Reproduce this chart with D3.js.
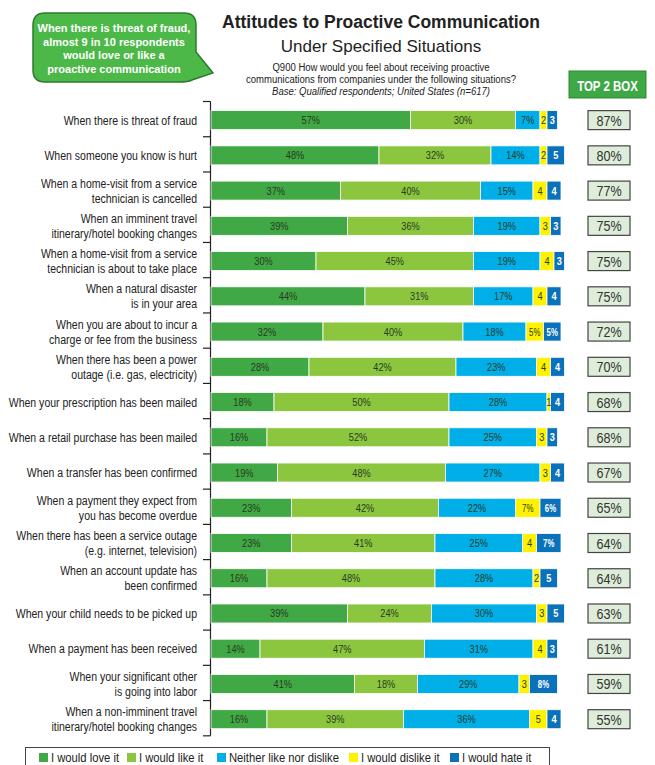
<!DOCTYPE html>
<html lang="en">
<head>
<meta charset="utf-8">
<title>Attitudes to Proactive Communication</title>
<script src="https://d3js.org/d3.v7.min.js"></script>
<style>
    body { margin: 0; background: #fff; }
    svg { display: block; }
    text { font-family: "Liberation Sans", Arial, sans-serif; }
</style>
</head>
<body>
<script>
var width = 655, height = 765;

// situations (rows, top to bottom)
var situations = [
    ["When there is threat of fraud"],
    ["When someone you know is hurt"],
    ["When a home-visit from a service", "technician is cancelled"],
    ["When an imminent travel", "itinerary/hotel booking changes"],
    ["When a home-visit from a service", "technician is about to take place"],
    ["When a natural disaster", "is in your area"],
    ["When you are about to incur a", "charge or fee from the business"],
    ["When there has been a power", "outage (i.e. gas, electricity)"],
    ["When your prescription has been mailed"],
    ["When a retail purchase has been mailed"],
    ["When a transfer has been confirmed"],
    ["When a payment they expect from", "you has become overdue"],
    ["When there has been a service outage", "(e.g. internet, television)"],
    ["When an account update has", "been confirmed"],
    ["When your child needs to be picked up"],
    ["When a payment has been received"],
    ["When your significant other", "is going into labor"],
    ["When a non-imminent travel", "itinerary/hotel booking changes"]
];

var seriesNames = ["I would love it", "I would like it", "Neither like nor dislike", "I would dislike it", "I would hate it"];
var seriesColors = ["#40a845", "#8cc63f", "#00aee8", "#fff200", "#0a72bb"];

var loveIt    = [57, 48, 37, 39, 30, 44, 32, 28, 18, 16, 19, 23, 23, 16, 39, 14, 41, 16];
var likeIt    = [30, 32, 40, 36, 45, 31, 40, 42, 50, 52, 48, 42, 41, 48, 24, 47, 18, 39];
var neither   = [7, 14, 15, 19, 19, 17, 18, 23, 28, 25, 27, 22, 25, 28, 30, 31, 29, 36];
var dislikeIt = [2, 2, 4, 3, 4, 4, 5, 4, 1, 3, 3, 7, 4, 2, 3, 4, 3, 5];
var hateIt    = [3, 5, 4, 3, 3, 4, 5, 4, 4, 3, 4, 6, 7, 5, 5, 3, 8, 4];

// small segments in the source print without "%" except a few
var dislikeLabels = ["2", "2", "4", "3", "4", "4", "5%", "4", "1", "3", "3", "7%", "4", "2", "3", "4", "3", "5"];
var hateLabels    = ["3", "5", "4", "3", "3", "4", "5%", "4", "4", "3", "4", "6%", "7%", "5", "5", "3", "8%", "4"];

var top2Box = [87, 80, 77, 75, 75, 75, 72, 70, 68, 68, 67, 65, 64, 64, 63, 61, 59, 55];

var series = [loveIt, likeIt, neither, dislikeIt, hateIt];

var svg = d3.select("body").append("svg")
    .attr("width", width)
    .attr("height", height);

// condensed look: plain sans squeezed horizontally
function narrow(parent, x, y, sx) {
    return parent.append("text")
        .attr("transform", "translate(" + x + "," + y + ") scale(" + sx + ",1)");
}

// scales
var y = d3.scaleBand()
    .domain(d3.range(situations.length))
    .range([101.5, 101.5 + situations.length * 35.24]);

var x = d3.scaleLinear()
    .domain([0, 100])
    .range([211, 561]);

var barH = 19;

// Titles
svg.append("text")
    .attr("x", 381).attr("y", 28)
    .attr("text-anchor", "middle")
    .style("font-size", "17.5px").style("font-weight", "bold").style("fill", "#222")
    .text("Attitudes to Proactive Communication");

svg.append("text")
    .attr("x", 381).attr("y", 52)
    .attr("text-anchor", "middle")
    .style("font-size", "17px").style("fill", "#222")
    .text("Under Specified Situations");

var subLines = [
    "Q900  How would you feel about receiving proactive",
    "communications from companies under the following situations?",
    "Base:  Qualified respondents; United States (n=617)"
];
subLines.forEach(function(s, i) {
    narrow(svg, 381, 71 + i * 12, 0.83)
        .attr("text-anchor", "middle")
        .style("font-size", "11.5px").style("fill", "#222")
        .style("font-style", i === 2 ? "italic" : "normal")
        .text(s);
});

// Speech bubble
var bx0 = 33, bx1 = 196, by0 = 13, by1 = 82, r = 12;
var bubble = d3.path();
bubble.moveTo(bx0 + r, by0);
bubble.lineTo(bx1 - r, by0);
bubble.quadraticCurveTo(bx1, by0, bx1, by0 + r);
bubble.lineTo(bx1, 52);
bubble.lineTo(213, 73);
bubble.lineTo(bx1 - 4, by1 - 2);
bubble.quadraticCurveTo(bx1 - 8, by1, bx1 - r - 4, by1);
bubble.lineTo(bx0 + r, by1);
bubble.quadraticCurveTo(bx0, by1, bx0, by1 - r);
bubble.lineTo(bx0, by0 + r);
bubble.quadraticCurveTo(bx0, by0, bx0 + r, by0);
bubble.closePath();

svg.append("path")
    .attr("d", bubble.toString())
    .attr("fill", "#4cb848")
    .attr("stroke", "#2e7a30")
    .attr("stroke-width", 1.5);

var calloutLines = ["When there is threat of fraud,", "almost 9 in 10 respondents", "would love or like a", "proactive communication"];
svg.append("g").selectAll("text")
    .data(calloutLines)
    .enter().append("text")
    .attr("x", 114)
    .attr("y", function(d, i) { return 32 + i * 13.5; })
    .attr("text-anchor", "middle")
    .style("font-size", "11px")
    .style("font-weight", "bold")
    .style("fill", "#fff")
    .text(function(d) { return d; });

// TOP 2 BOX header
svg.append("rect")
    .attr("x", 569).attr("y", 71).attr("width", 77).attr("height", 27)
    .attr("fill", "#3fa846").attr("stroke", "#2d8a33");
narrow(svg, 607.5, 90.5, 0.74)
    .attr("text-anchor", "middle")
    .style("font-size", "15.5px").style("font-weight", "bold").style("fill", "#fff")
    .text("TOP 2 BOX");

// axis line with ticks at band edges
var axisG = svg.append("g");
axisG.append("line")
    .attr("x1", 210.5).attr("x2", 210.5)
    .attr("y1", y.range()[0]).attr("y2", y.range()[1])
    .attr("stroke", "#222").attr("stroke-width", 1.2);
axisG.selectAll("line.tick")
    .data(d3.range(situations.length + 1))
    .enter().append("line")
    .attr("class", "tick")
    .attr("x1", 203).attr("x2", 210.5)
    .attr("y1", function(i) { return y.range()[0] + i * y.step(); })
    .attr("y2", function(i) { return y.range()[0] + i * y.step(); })
    .attr("stroke", "#222").attr("stroke-width", 1.2);

// row labels
var labelG = svg.append("g");
situations.forEach(function(lines, i) {
    var cy = y(i) + y.bandwidth() / 2 + 1;
    lines.forEach(function(l, j) {
        narrow(labelG, 197, cy - (lines.length - 1) * 7.5 + j * 15 + 4.5, 0.78)
            .attr("text-anchor", "end")
            .style("font-size", "13.5px").style("fill", "#222")
            .text(l);
    });
});

// stacked bars
var rows = situations.map(function(s, i) {
    var acc = 0;
    return series.map(function(vals, k) {
        var seg = { row: i, k: k, v: vals[i], x0: acc, x1: acc + vals[i] };
        acc += vals[i];
        if (k === 3) seg.label = dislikeLabels[i];
        else if (k === 4) seg.label = hateLabels[i];
        else seg.label = vals[i] + "%";
        return seg;
    });
});
var segs = [].concat.apply([], rows);

var barG = svg.append("g");
barG.selectAll("rect")
    .data(segs)
    .enter().append("rect")
    .attr("x", function(d) { return x(d.x0); })
    .attr("y", function(d) { return y(d.row) + (y.bandwidth() - barH) / 2 + 1; })
    .attr("width", function(d) { return x(d.x1) - x(d.x0); })
    .attr("height", barH)
    .attr("fill", function(d) { return seriesColors[d.k]; })
    .attr("stroke", "#fff")
    .attr("stroke-width", 0.8);

segs.forEach(function(d) {
    var cx = (x(d.x0) + x(d.x1)) / 2;
    var cy = y(d.row) + y.bandwidth() / 2 + 5;
    narrow(barG, cx, cy, d.k >= 3 && d.label.length > 1 ? 0.68 : 0.8)
        .attr("text-anchor", "middle")
        .style("font-size", "11.5px")
        .style("font-weight", d.k === 4 ? "bold" : "normal")
        .style("fill", d.k === 4 ? "#fff" : "#2a3a22")
        .text(d.label);
});

// top 2 box values
var t2 = svg.append("g");
t2.selectAll("rect")
    .data(top2Box)
    .enter().append("rect")
    .attr("x", 588).attr("width", 42)
    .attr("y", function(d, i) { return y(i) + (y.bandwidth() - barH) / 2 + 1; })
    .attr("height", barH)
    .attr("fill", "#ddedd9")
    .attr("stroke", "#444").attr("stroke-width", 1.2);
top2Box.forEach(function(d, i) {
    narrow(t2, 609, y(i) + y.bandwidth() / 2 + 6.5, 0.84)
        .attr("text-anchor", "middle")
        .style("font-size", "15px").style("fill", "#333")
        .text(d + "%");
});

// legend
var lg = svg.append("g");
lg.append("rect")
    .attr("x", 25.5).attr("y", 747.5).attr("width", 524).attr("height", 30)
    .attr("fill", "#fff").attr("stroke", "#444").attr("stroke-width", 1);
var legendX = [39, 127, 217, 349, 450];
seriesNames.forEach(function(name, k) {
    lg.append("rect")
        .attr("x", legendX[k]).attr("y", 753).attr("width", 9).attr("height", 9)
        .attr("fill", seriesColors[k]);
    narrow(lg, legendX[k] + 12, 761.5, 0.9)
        .style("font-size", "12.5px").style("fill", "#222")
        .text(name);
});
</script>
</body>
</html>
